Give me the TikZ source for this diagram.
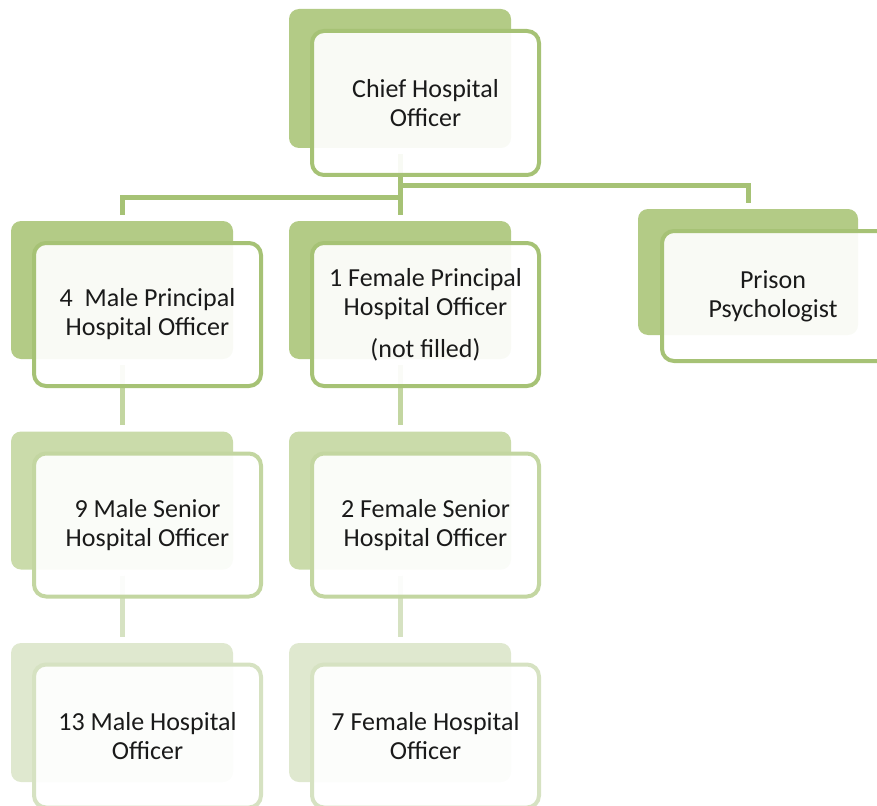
\documentclass[tikz,border=0pt]{standalone}
\usepackage{fontspec}
\setmainfont{Carlito}
\definecolor{gAback}{HTML}{B3CB86}
\definecolor{gAline}{HTML}{A6C275}
\definecolor{gBback}{HTML}{CADBAA}
\definecolor{gBline}{HTML}{C3D6A1}
\definecolor{gCback}{HTML}{DFE8CF}
\definecolor{gCline}{HTML}{D6E2C2}
\definecolor{txt}{HTML}{1A1A1A}
\begin{document}
\begin{tikzpicture}[x=1pt,y=-1pt,
  backbox/.style={draw=none, rounded corners=10pt, inner sep=0pt,
    minimum width=222pt, minimum height=138pt},
  frontbox/.style={line width=4pt, rounded corners=12pt, fill=white,
    fill opacity=0.92, text opacity=1, text=txt, inner sep=0pt,
    minimum width=227pt, minimum height=143pt, align=center,
    font=\fontsize{26pt}{29pt}\selectfont},
  conn/.style={line width=5pt, shorten <=6pt, shorten >=6pt},
  lvA/.style={fill=gAback}, lvB/.style={fill=gBback}, lvC/.style={fill=gCback},
  frA/.style={frontbox, draw=gAline}, frB/.style={frontbox, draw=gBline},
  frC/.style={frontbox, draw=gCline}]
\clip (0,0) rectangle (877,805);
\useasboundingbox (0,0) rectangle (877,805);
% back boxes
\node[backbox, lvA, minimum height=139pt] (chiefB) at (400,78.5) {};
\node[backbox, lvA] (m1B) at (122,290) {};
\node[backbox, lvA] (f1B) at (400,290) {};
\node[backbox, lvA, minimum width=220pt, minimum height=126pt] (psyB) at (748,272) {};
\node[backbox, lvB] (m2B) at (122,500.5) {};
\node[backbox, lvB] (f2B) at (400,500.5) {};
\node[backbox, lvC, minimum height=139pt] (m3B) at (122,712.5) {};
\node[backbox, lvC, minimum height=139pt] (f3B) at (400,712.5) {};
% connectors
\draw[conn, gAline] (chiefB.south) -- (f1B.north);
\draw[conn, gAline] (chiefB.south) |- (m1B.north |- 0,197) -- (m1B.north);
\draw[conn, gAline, shorten <=0pt] (chiefB.south |- 0,185) -| (psyB.north);
\draw[conn, gBline] (m1B.south) -- (m2B.north);
\draw[conn, gBline] (f1B.south) -- (f2B.north);
\draw[conn, gCline] (m2B.south) -- (m3B.north);
\draw[conn, gCline] (f2B.south) -- (f3B.north);
% front boxes
\node[frA, minimum height=144pt] (chief) at (425.5,103) {Chief Hospital\\Officer};
\node[frA] (m1) at (147.5,314.5) {4~~Male Principal\\Hospital Officer};
\node[frA] (f1) at (425.5,314.5) {1 Female Principal\\Hospital Officer\\[13pt](not filled)};
\node[frA, minimum width=228pt, minimum height=130pt] (psy) at (776,296) {\hspace*{-6pt}Prison\\\hspace*{-6pt}Psychologist};
\node[frB] (m2) at (147.5,525) {9 Male Senior\\Hospital Officer};
\node[frB] (f2) at (425.5,525) {2 Female Senior\\Hospital Officer};
\node[frC] (m3) at (147.5,736) {13 Male Hospital\\Officer};
\node[frC] (f3) at (425.5,736) {7 Female Hospital\\Officer};
\end{tikzpicture}
\end{document}
